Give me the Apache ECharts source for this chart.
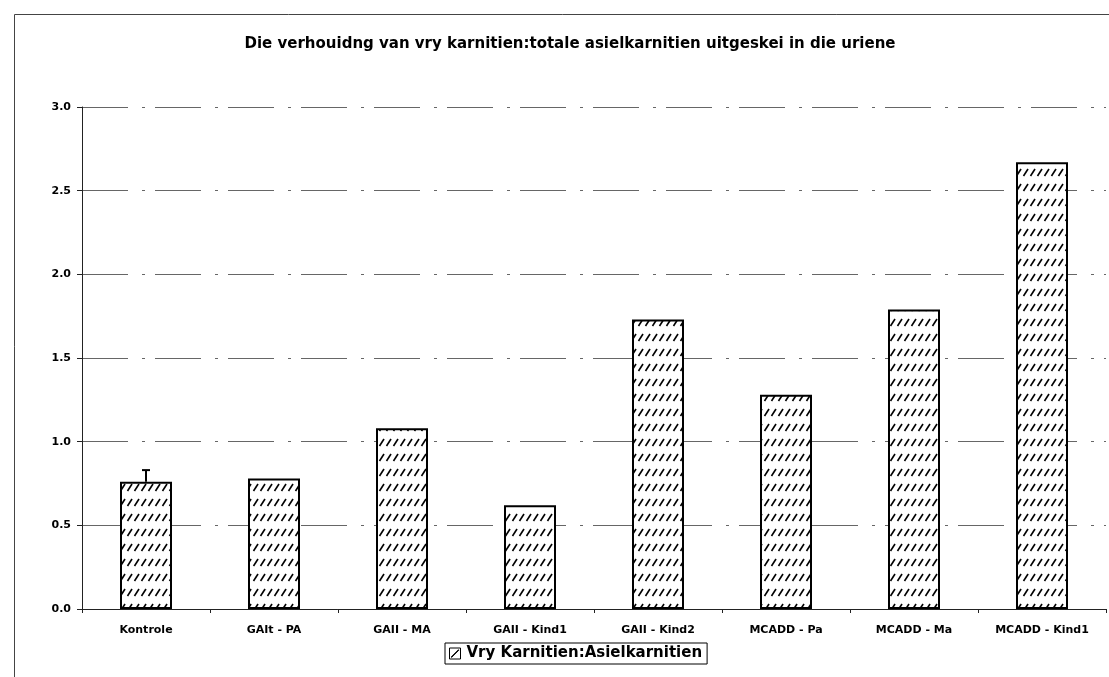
<!DOCTYPE html>
<html>
<head>
    <meta charset="utf-8">
    <title>Vry karnitien</title>
    <script src="https://cdn.jsdelivr.net/npm/echarts@6.0.0/dist/echarts.min.js"></script>
    <style>
        html, body { margin: 0; padding: 0; background: #fff; }
        #chart { width: 1109px; height: 677px; }
    </style>
</head>
<body>
    <div id="chart"></div>
    <script>
        // kategorieë en waardes
        var groepe = ['Kontrole', 'GAIt - PA', 'GAII - MA', 'GAII - Kind1', 'GAII - Kind2', 'MCADD - Pa', 'MCADD - Ma', 'MCADD - Kind1'];
        var verhouding = [0.76, 0.78, 1.08, 0.62, 1.73, 1.28, 1.79, 2.67];
        var foutBo = [0.83, null, null, null, null, null, null, null];
        var yTicks = [0, 0.5, 1.0, 1.5, 2.0, 2.5, 3.0];

        // skuins arsering vir die stawe
        function maakPatroon() {
            var c = document.createElement('canvas');
            c.width = 7;
            c.height = 15;
            var ctx = c.getContext('2d');
            ctx.fillStyle = '#fff';
            ctx.fillRect(0, 0, 7, 15);
            ctx.strokeStyle = '#000';
            ctx.lineWidth = 1.6;
            ctx.beginPath();
            ctx.moveTo(1.5, 11);
            ctx.lineTo(6, 4);
            ctx.stroke();
            return c;
        }

        var chart = echarts.init(document.getElementById('chart'));
        var foutData = foutBo.map(function (v, i) { return v == null ? null : [i, verhouding[i], v]; })
            .filter(function (d) { return d; });

        var option = {
            animation: false,
            title: {
                text: 'Die verhouidng van vry karnitien:totale asielkarnitien uitgeskei in die uriene',
                left: 565,
                textAlign: 'center',
                top: 32,
                textStyle: { fontFamily: 'DejaVu Sans', fontWeight: 'bold', fontSize: 15, color: '#000' }
            },
            graphic: [{
                type: 'rect',
                left: 12, top: 12,
                shape: { width: 1200, height: 800 },
                style: { fill: 'none', stroke: '#444', lineWidth: 1 },
                silent: true
            }],
            legend: {
                data: ['Vry Karnitien:Asielkarnitien'],
                left: 445,
                top: 643,
                icon: 'path://M0,0H10V10H0ZM1.5,8.2L8.2,1.5L8.6,1.9L1.9,8.6Z',
                itemWidth: 11,
                itemHeight: 11,
                itemGap: 2,
                padding: [3, 5, 3, 4],
                borderColor: '#000',
                borderWidth: 1,
                borderRadius: 0,
                itemStyle: { color: '#fff', borderColor: '#000', borderWidth: 1 },
                textStyle: { fontFamily: 'DejaVu Sans', fontWeight: 'bold', fontSize: 15, color: '#000', padding: [0, 0, 0, 1] }
            },
            grid: { left: 82, top: 107, width: 1024, height: 502 },
            xAxis: {
                type: 'category',
                data: groepe,
                axisLine: { lineStyle: { color: '#222', width: 1 } },
                axisTick: { show: true, length: 4, lineStyle: { color: '#222' } },
                axisLabel: { fontFamily: 'DejaVu Sans', fontWeight: 'bold', fontSize: 11, color: '#000', margin: 16 }
            },
            yAxis: {
                type: 'value',
                min: yTicks[0],
                max: yTicks[yTicks.length - 1],
                interval: 0.5,
                axisLine: { show: true, lineStyle: { color: '#222', width: 1 } },
                axisTick: { show: true, length: 5, lineStyle: { color: '#222' } },
                axisLabel: {
                    fontFamily: 'DejaVu Sans', fontWeight: 'bold', fontSize: 11, color: '#000', margin: 11,
                    formatter: function (v) { return v.toFixed(1); }
                },
                splitLine: { show: true, lineStyle: { color: '#666', width: 1, type: [46, 14, 3, 10] } }
            },
            series: [
                {
                    name: 'Vry Karnitien:Asielkarnitien',
                    type: 'bar',
                    data: verhouding,
                    barWidth: 52,
                    itemStyle: {
                        color: { image: maakPatroon(), repeat: 'repeat' },
                        borderColor: '#000',
                        borderWidth: 2
                    }
                },
                {
                    name: 'fout',
                    type: 'custom',
                    data: foutData,
                    z: 5,
                    renderItem: function (params, api) {
                        var bo = api.coord([api.value(0), api.value(1)]);
                        var top = api.coord([api.value(0), api.value(2)]);
                        return {
                            type: 'group',
                            children: [
                                { type: 'line', shape: { x1: bo[0], y1: bo[1], x2: top[0], y2: top[1] }, style: { stroke: '#000', lineWidth: 2 } },
                                { type: 'line', shape: { x1: top[0] - 4, y1: top[1], x2: top[0] + 4, y2: top[1] }, style: { stroke: '#000', lineWidth: 2 } }
                            ]
                        };
                    }
                }
            ]
        };
        chart.setOption(option);
    </script>
</body>
</html>
